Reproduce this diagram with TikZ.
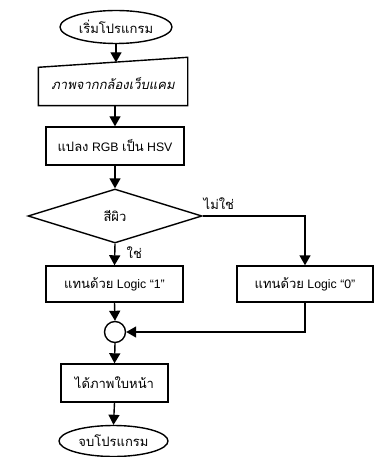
\documentclass[tikz,border=0pt]{standalone}
\usepackage{fontspec}
\setmainfont{Liberation Sans}
\newfontfamily\thai[Script=Thai,Scale=1.06]{Loma}
\usetikzlibrary{shapes.geometric,arrows.meta}
\begin{document}
\begin{tikzpicture}[x=1pt,y=-1pt,line width=1.4pt,
  arr/.style={-{Triangle[length=10pt,width=11pt]}},
  txt/.style={font=\fontsize{12.3}{14}\selectfont},
  box/.style={draw,rectangle,inner sep=0pt,txt},
  term/.style={draw,ellipse,inner sep=0pt,txt},
  lbl/.style={inner sep=0pt,txt}]
\useasboundingbox (0,0) rectangle (374,457);
\fill[white] (0,0) rectangle (374,457);
\node[term,minimum width=112pt,minimum height=33pt] (start) at (116,27) {\thai เริ่มโปรแกรม};
\node[rectangle,inner sep=0pt,minimum width=148pt,minimum height=42pt,txt] (in) at (113,84) {\thai\itshape ภาพจากกล้องเว็บแคม};
\draw (in.south west) -- (in.south east) -- ([yshift=5pt]in.north east) -- ([yshift=-5pt]in.north west) -- cycle;
\node[box,minimum width=138pt,minimum height=38pt] (conv) at (115,146) {{\thai แปลง} RGB {\thai เป็น} HSV};
\node[draw,diamond,aspect=3.2,inner sep=0pt,minimum width=174pt,minimum height=54pt,txt] (dec) at (115,216) {\thai สีผิว};
\node[box,minimum width=137pt,minimum height=36pt] (l1) at (114.5,284) {{\thai แทนด้วย} Logic “1”};
\node[box,minimum width=136pt,minimum height=36pt] (r1) at (305,284) {{\thai แทนด้วย} Logic “0”};
\node[draw,circle,inner sep=0pt,minimum size=21pt] (j) at (115,332) {};
\node[box,minimum width=107pt,minimum height=38pt] (face) at (114.5,383) {\thai ได้ภาพใบหน้า};
\node[term,minimum width=109pt,minimum height=31pt] (end) at (113.5,441) {\thai จบโปรแกรม};
\draw[arr] (start.south) -- (start.south |- in.north);
\draw[arr] (in.south -| conv.north) -- (conv.north);
\draw[arr] (conv.south) -- (dec.north);
\draw[arr] (dec.south) -- (l1.north);
\draw[arr] (dec.east) -| (r1.north);
\draw[arr] (l1.south) -- (j.north);
\draw[arr] (r1.south) |- (j.east);
\draw[arr] (j.south) -- (face.north);
\draw[arr] (face.south) -- (end.north);
\node[lbl,anchor=south west] (no) at (203,210) {\thai ไม่ใช่};
\node[lbl,anchor=west] (yes) at (126,253) {\thai ใช่};
\end{tikzpicture}
\end{document}
